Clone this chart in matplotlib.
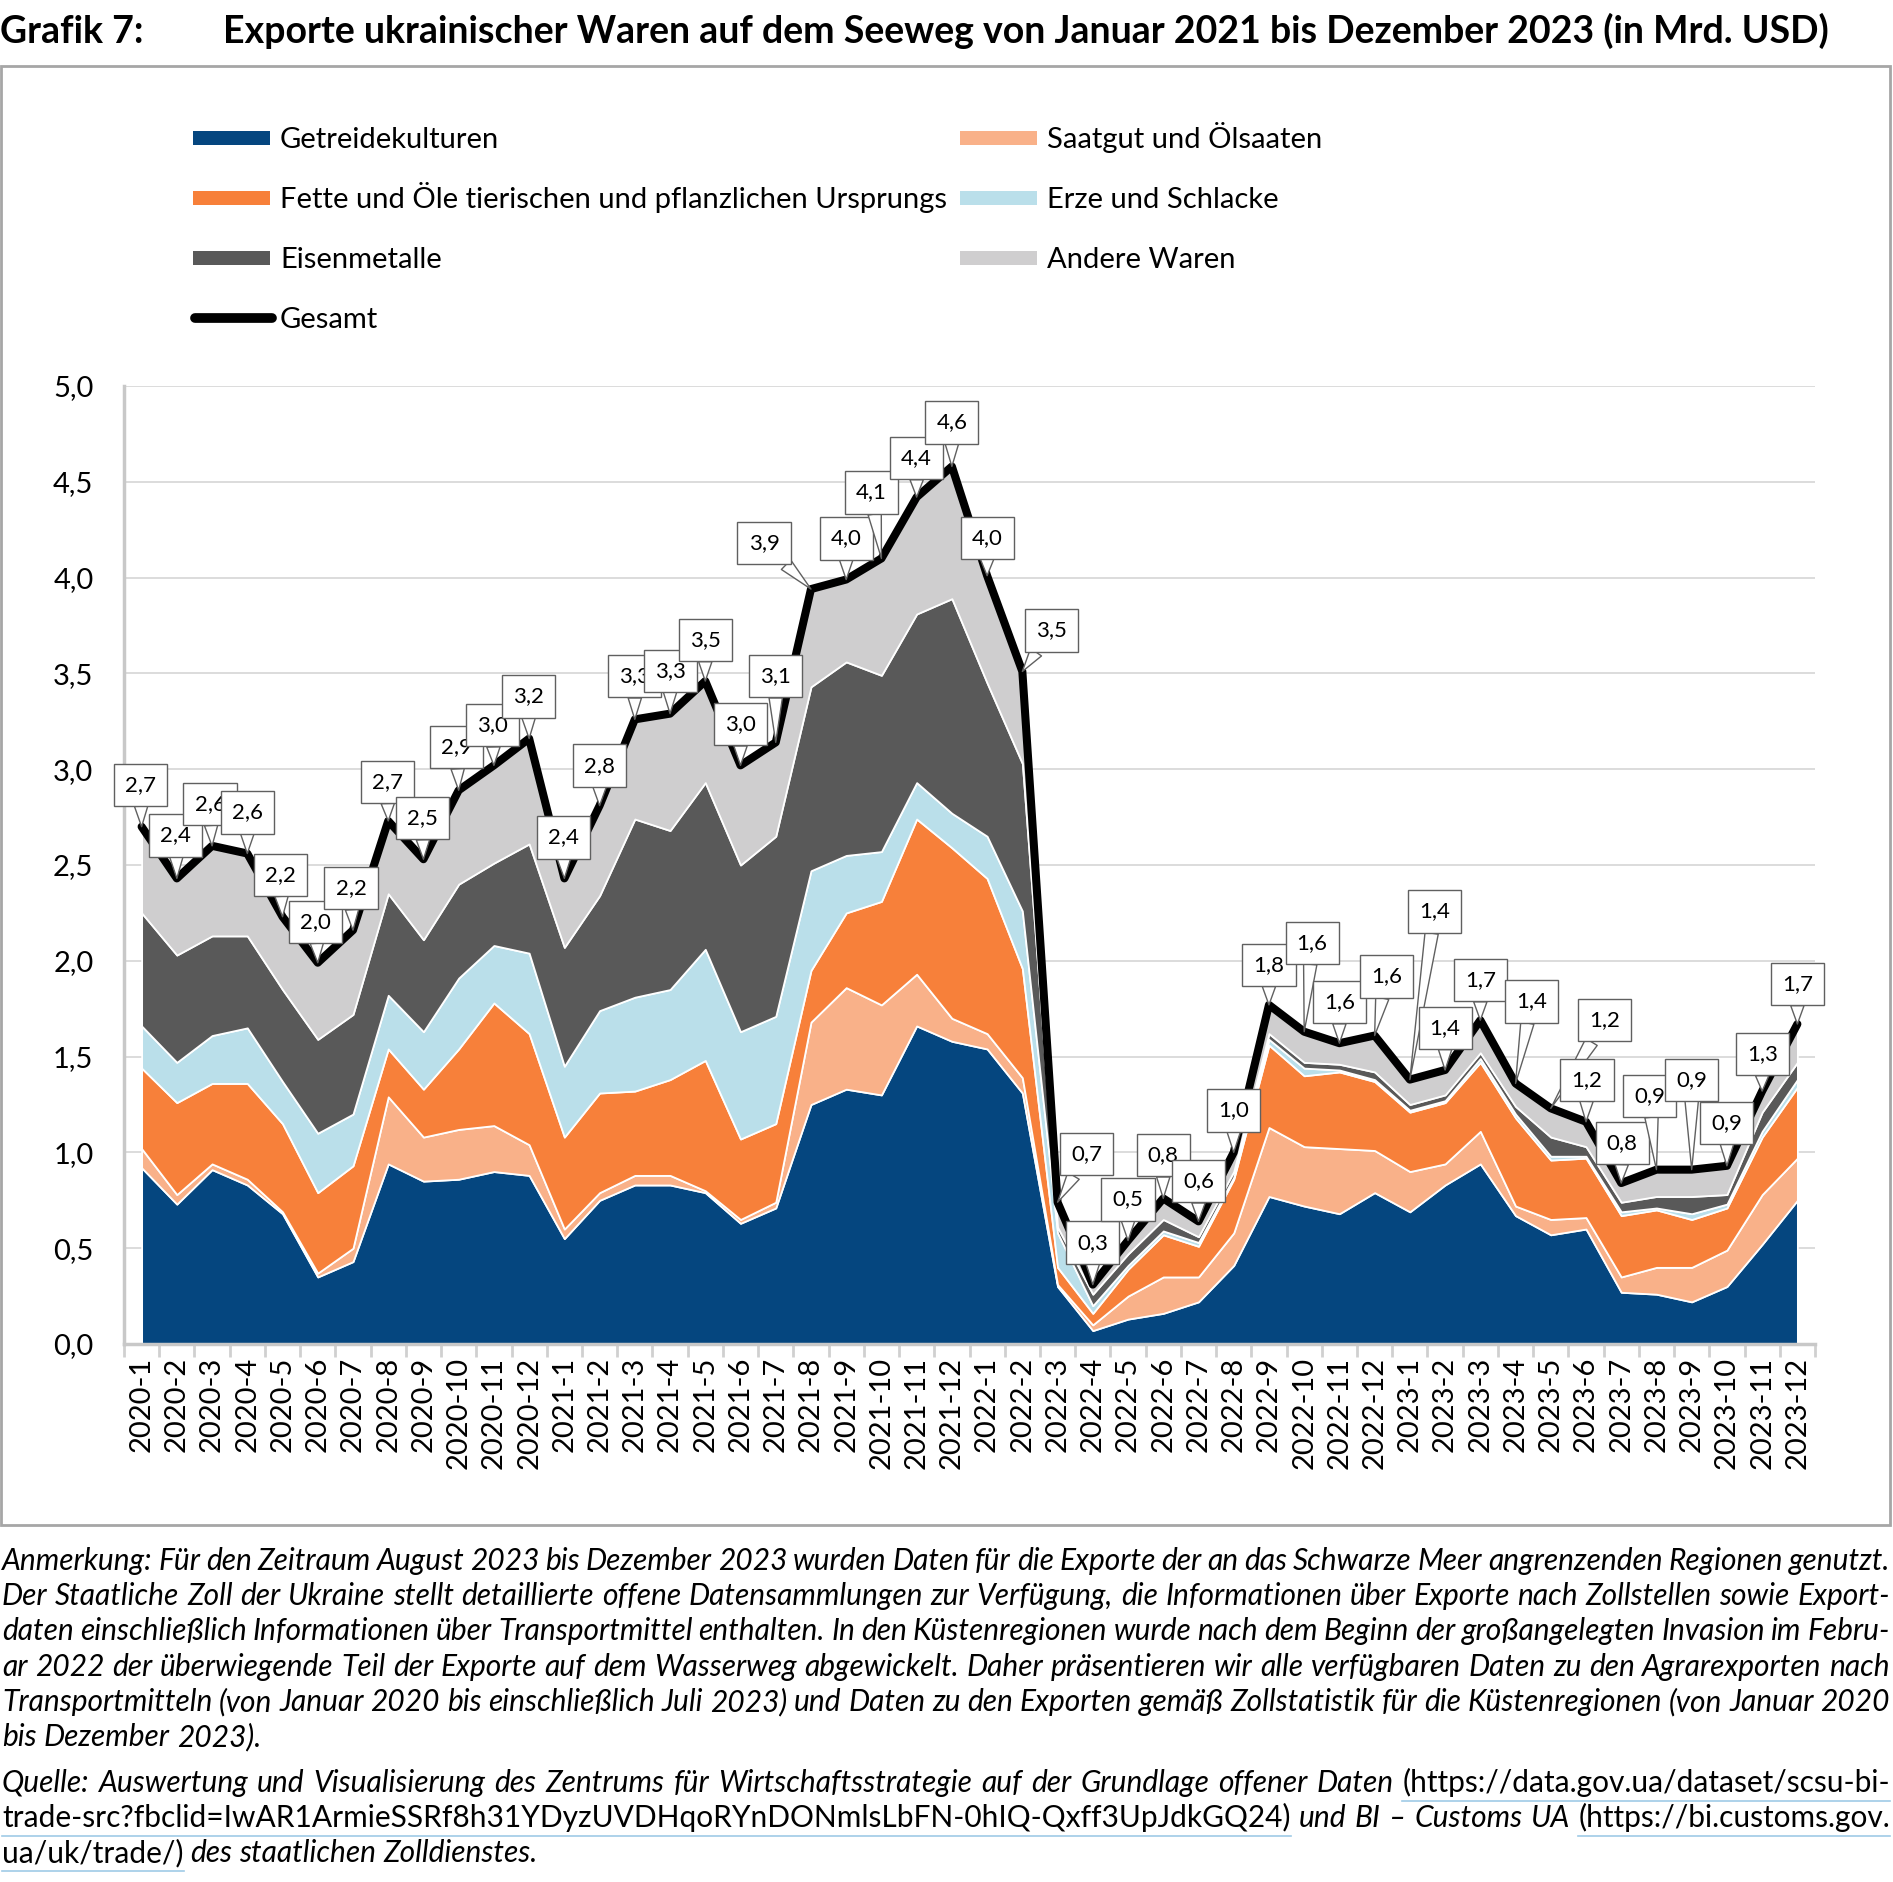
import numpy as np
import matplotlib
matplotlib.use('Agg')
import matplotlib.pyplot as plt
from matplotlib.patches import Rectangle
from matplotlib.lines import Line2D

plt.rcParams['font.family'] = ['Lato', 'DejaVu Sans']

# months 2020-1 .. 2023-12
months = [f'{y}-{m}' for y in (2020, 2021, 2022, 2023) for m in range(1, 13)]

# values in Mrd. USD
getreide = [0.92, 0.73, 0.91, 0.83, 0.68, 0.35, 0.43, 0.94, 0.85, 0.86, 0.90, 0.88,
            0.55, 0.75, 0.83, 0.83, 0.79, 0.63, 0.71, 1.25, 1.33, 1.30, 1.66, 1.58,
            1.54, 1.31, 0.30, 0.07, 0.13, 0.16, 0.22, 0.41, 0.77, 0.72, 0.68, 0.79,
            0.69, 0.83, 0.94, 0.67, 0.57, 0.60, 0.27, 0.26, 0.22, 0.30, 0.52, 0.75]
saatgut = [0.10, 0.05, 0.03, 0.03, 0.01, 0.02, 0.07, 0.35, 0.23, 0.26, 0.24, 0.16,
           0.05, 0.04, 0.05, 0.05, 0.01, 0.02, 0.03, 0.43, 0.53, 0.47, 0.27, 0.12,
           0.08, 0.08, 0.01, 0.03, 0.12, 0.19, 0.13, 0.17, 0.36, 0.31, 0.34, 0.22,
           0.21, 0.11, 0.17, 0.05, 0.08, 0.06, 0.08, 0.14, 0.18, 0.19, 0.26, 0.22]
fette = [0.42, 0.48, 0.42, 0.50, 0.46, 0.42, 0.43, 0.25, 0.25, 0.42, 0.64, 0.58,
         0.48, 0.52, 0.44, 0.50, 0.68, 0.42, 0.41, 0.27, 0.39, 0.54, 0.81, 0.89,
         0.81, 0.57, 0.09, 0.06, 0.14, 0.22, 0.16, 0.28, 0.43, 0.37, 0.40, 0.36,
         0.31, 0.32, 0.36, 0.46, 0.31, 0.31, 0.32, 0.30, 0.25, 0.22, 0.30, 0.37]
erze = [0.22, 0.21, 0.25, 0.29, 0.22, 0.31, 0.27, 0.28, 0.30, 0.37, 0.30, 0.42,
        0.37, 0.43, 0.49, 0.47, 0.58, 0.56, 0.56, 0.52, 0.30, 0.26, 0.19, 0.18,
        0.22, 0.30, 0.18, 0.04, 0.02, 0.02, 0.02, 0.01, 0.03, 0.04, 0.01, 0.01,
        0.01, 0.01, 0.02, 0.02, 0.02, 0.01, 0.02, 0.01, 0.03, 0.02, 0.03, 0.04]
eisen = [0.59, 0.56, 0.52, 0.48, 0.48, 0.49, 0.52, 0.53, 0.48, 0.49, 0.43, 0.57,
         0.62, 0.60, 0.93, 0.83, 0.87, 0.87, 0.94, 0.96, 1.01, 0.92, 0.88, 1.12,
         0.80, 0.77, 0.03, 0.06, 0.06, 0.06, 0.03, 0.03, 0.03, 0.03, 0.03, 0.04,
         0.03, 0.03, 0.03, 0.04, 0.10, 0.05, 0.05, 0.06, 0.09, 0.05, 0.10, 0.09]
andere = [0.45, 0.40, 0.47, 0.43, 0.38, 0.40, 0.44, 0.38, 0.42, 0.49, 0.51, 0.55,
          0.36, 0.47, 0.52, 0.61, 0.53, 0.52, 0.49, 0.51, 0.43, 0.61, 0.61, 0.69,
          0.56, 0.48, 0.13, 0.05, 0.07, 0.11, 0.08, 0.10, 0.15, 0.16, 0.11, 0.19,
          0.13, 0.13, 0.17, 0.12, 0.15, 0.13, 0.10, 0.14, 0.14, 0.15, 0.11, 0.20]

series_names = ['Getreidekulturen', 'Saatgut und Ölsaaten',
                'Fette und Öle tierischen und pflanzlichen Ursprungs', 'Erze und Schlacke',
                'Eisenmetalle', 'Andere Waren']
colors = ['#05467f', '#f9b189', '#f7803a', '#badfea', '#595959', '#cfcecf']

# callout box offsets from the point (pixels)
label_offsets = [(-1, 42), (-1, 43), (-2, 42), (0, 41), (-2, 42), (-2, 41), (-2, 42), (-1, 39),
                 (-1, 41), (-2, 43), (-1, 40), (-1, 42), (-1, 41), (0, 40), (0, 43), (0, 43),
                 (0, 41), (0, 41), (0, 66), (-47, 46), (0, 41), (-10, 66), (0, 39), (0, 44),
                 (0, 38), (29, 41), (29, 48), (0, 42), (0, 41), (0, 43), (0, 40), (0, 42),
                 (0, 40), (8, 89), (0, 41), (12, 59), (25, 168), (0, 42), (0, 40), (16, 82),
                 (54, 88), (1, 42), (1, 40), (-7, 74), (0, 90), (0, 43), (0, 37), (0, 40)]

W, H = 1893, 1882
fig = plt.figure(figsize=(W / 100, H / 100), dpi=100)

def fx(px):
    return px / W

def fy(py):
    return 1 - py / H

# frame around chart
fig.patches.append(Rectangle((fx(1), fy(1525)), fx(1889), (1525 - 66) / H,
                             transform=fig.transFigure, fill=False, ec='#a6a6a6', lw=2))

# title
fig.text(fx(0), fy(43), 'Grafik 7:', fontsize=27, fontweight='bold', va='baseline')
fig.text(fx(223), fy(43), 'Exporte ukrainischer Waren auf dem Seeweg von Januar 2021 bis Dezember 2023 (in Mrd. USD)',
         fontsize=27, fontweight='bold', va='baseline')

# axes
ax = fig.add_axes([fx(124), fy(1344), (1815 - 124) / W, (1344 - 386) / H])
x = np.arange(len(months))
stacks = [getreide, saatgut, fette, erze, eisen, andere]
ax.stackplot(x, *stacks, colors=colors, edgecolor='white', linewidth=1.3, zorder=2)
gesamt = np.sum(np.array(stacks), axis=0)
ax.plot(x, gesamt, color='black', lw=5.8, solid_joinstyle='round', solid_capstyle='round', zorder=3)

ax.set_xlim(-0.5, len(months) - 0.5)
ax.set_ylim(0, 5)
ax.set_yticks(np.arange(0, 5.01, 0.5))
ax.set_yticklabels([f'{v:.1f}'.replace('.', ',') for v in np.arange(0, 5.01, 0.5)])
ax.grid(axis='y', color='#d9d9d9', lw=1.3, zorder=0)
ax.set_axisbelow(True)
ax.set_xticks(x)
ax.set_xticklabels(months, rotation=90)
ax.set_xticks(np.arange(-0.5, len(months)), minor=True)
ax.tick_params(axis='x', which='major', length=0, pad=9, labelsize=21)
ax.tick_params(axis='x', which='minor', length=9, width=2, color='#d0d0d0')
ax.tick_params(axis='y', length=0, pad=22, labelsize=21)
for s in ['top', 'right']:
    ax.spines[s].set_visible(False)
for s in ['left', 'bottom']:
    ax.spines[s].set_color('#c8c8c8')
    ax.spines[s].set_linewidth(2.5)

# callout labels
for i, v in enumerate(gesamt):
    ax.annotate(f'{v:.1f}'.replace('.', ','), xy=(i, v), xytext=label_offsets[i],
                textcoords='offset pixels', ha='center', va='center', fontsize=16,
                bbox=dict(boxstyle='square,pad=0.5', fc='white', ec='#606060', lw=1),
                arrowprops=dict(arrowstyle='wedge,tail_width=0.6', fc='white', ec='#606060',
                                lw=1, shrinkA=0, shrinkB=0),
                annotation_clip=False, zorder=5)

# legend
legend_pos = [(193, 138), (960, 138), (193, 198), (960, 198), (193, 258), (960, 258)]
for k, (px, py) in enumerate(legend_pos):
    fig.patches.append(Rectangle((fx(px), fy(py + 7)), fx(77), 14 / H,
                                 transform=fig.transFigure, fc=colors[k], ec='none'))
    fig.text(fx(px + 87), fy(py + 10), series_names[k], fontsize=21, va='baseline')
fig.lines.append(Line2D([fx(195), fx(272)], [fy(318), fy(318)], transform=fig.transFigure,
                        color='black', lw=7, solid_capstyle='round'))
fig.text(fx(280), fy(328), 'Gesamt', fontsize=21, va='baseline')

# footnotes, justified
notes = [
    ([('Anmerkung: Für den Zeitraum August 2023 bis Dezember 2023 wurden Daten für die Exporte der an das Schwarze Meer angrenzenden Regionen genutzt.', True)], True),
    ([('Der Staatliche Zoll der Ukraine stellt detaillierte offene Datensammlungen zur Verfügung, die Informationen über Exporte nach Zollstellen sowie Export-', True)], True),
    ([('daten einschließlich Informationen über Transportmittel enthalten. In den Küstenregionen wurde nach dem Beginn der großangelegten Invasion im Febru-', True)], True),
    ([('ar 2022 der überwiegende Teil der Exporte auf dem Wasserweg abgewickelt. Daher präsentieren wir alle verfügbaren Daten zu den Agrarexporten nach', True)], True),
    ([('Transportmitteln (von Januar 2020 bis einschließlich Juli 2023) und Daten zu den Exporten gemäß Zollstatistik für die Küstenregionen (von Januar 2020', True)], True),
    ([('bis Dezember 2023).', True)], False),
    ([('Quelle: Auswertung und Visualisierung des Zentrums für Wirtschaftsstrategie auf der Grundlage offener Daten', True),
      ('(https://data.gov.ua/dataset/scsu-bi-', False)], True),
    ([('trade-src?fbclid=IwAR1ArmieSSRf8h31YDyzUVDHqoRYnDONmlsLbFN-0hIQ-Qxff3UpJdkGQ24)', False),
      ('und BI – Customs UA', True), ('(https://bi.customs.gov.', False)], True),
    ([('ua/uk/trade/)', False), ('des staatlichen Zolldienstes.', True)], False),
]
note_y = [1570, 1605, 1640, 1676, 1711, 1746, 1792, 1827, 1862]
renderer = fig.canvas.get_renderer()
x0, x1 = 2, 1890
fs = 21.5
sp = fig.text(0, 0, 'a a', fontsize=fs, style='italic')
sp2 = fig.text(0, 0, 'aa', fontsize=fs, style='italic')
space_w = sp.get_window_extent(renderer).width - sp2.get_window_extent(renderer).width
sp.remove(); sp2.remove()

for (segs, just), py in zip(notes, note_y):
    words = []
    for txt, it in segs:
        for w in txt.split(' '):
            words.append((w, it))
    arts, widths = [], []
    for w, it in words:
        t = fig.text(0, fy(py), w, fontsize=fs, style='italic' if it else 'normal', va='baseline')
        arts.append(t)
        widths.append(t.get_window_extent(renderer).width)
    gap = (x1 - x0 - sum(widths)) / (len(words) - 1) if just else space_w
    xp = x0
    run = None
    for t, wd, (w, it) in zip(arts, widths, words):
        t.set_x(fx(xp))
        if not it:
            run = [xp, xp + wd] if run is None else [run[0], xp + wd]
        elif run is not None:
            fig.lines.append(Line2D([fx(run[0]), fx(run[1])], [fy(py + 9)] * 2,
                                    transform=fig.transFigure, color='#9fcbe6', lw=1.2))
            run = None
        xp += wd + gap
    if run is not None:
        fig.lines.append(Line2D([fx(run[0]), fx(run[1])], [fy(py + 9)] * 2,
                                transform=fig.transFigure, color='#9fcbe6', lw=1.2))

fig.savefig('out.png', dpi=100)
